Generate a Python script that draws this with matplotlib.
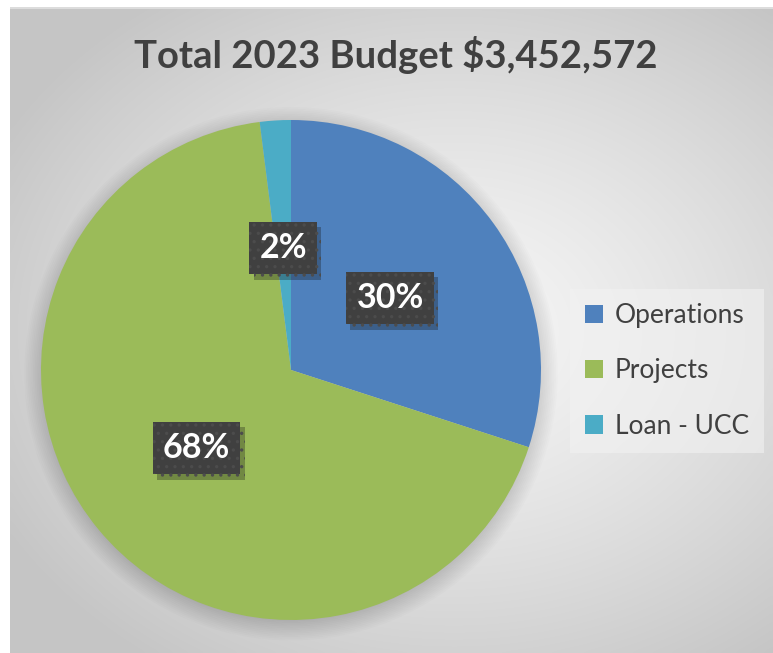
import numpy as np
import matplotlib
matplotlib.use("Agg")
import matplotlib.pyplot as plt
import matplotlib.patheffects as pe
from matplotlib.patches import Circle, Patch

# Budget split
categories = ["Operations", "Projects", "Loan - UCC"]
shares = [30, 68, 2]
colors = ["#4F81BD", "#9BBB59", "#4BACC6"]
title = "Total 2023 Budget $3,452,572"

W, H = 773, 653
fig = plt.figure(figsize=(W / 100, H / 100), dpi=100, facecolor="white")
plt.rcParams["font.family"] = ["Lato", "DejaVu Sans"]
plt.rcParams["hatch.linewidth"] = 1.2

# radial gradient backdrop for the chart area
bg = fig.add_axes([10 / W, 0, 1 - 10 / W, 1 - 7 / H])
bg.set_axis_off()
yy, xx = np.mgrid[0:200, 0:200]
cx, cy = 0.58 * 200, 0.50 * 200
d = np.sqrt(((xx - cx) / 135) ** 2 + ((yy - cy) / 125) ** 2)
d = np.clip(d, 0, 1)
shade = 0.965 - 0.19 * d ** 1.3
bg.imshow(np.dstack([shade] * 3), extent=(0, 1, 0, 1), aspect="auto",
          interpolation="bicubic")
bg.plot([0, 1], [0.999, 0.999], color="#dcdcdc", lw=1.5)
bg.set_xlim(0, 1)
bg.set_ylim(0, 1)

fig.text(396 / W, 1 - 55 / H, title, ha="center", va="center",
         fontsize=27.5, fontweight="bold", color="#404040")

ax = fig.add_axes([41 / W, 33 / H, 500 / W, 500 / H])
ax.set_aspect("equal")
ax.set_axis_off()

# soft drop shadow under the pie
for i in range(12):
    ax.add_patch(Circle((0, -0.015), 0.99 + 0.007 * i, color="black",
                        alpha=0.012, lw=0, zorder=0, clip_on=False))

wedges, texts, autotexts = ax.pie(
    shares, colors=colors, startangle=90, counterclock=False,
    autopct="%d%%", pctdistance=0.49,
    wedgeprops=dict(linewidth=0),
    textprops=dict(color="white", fontsize=24.5, fontweight="bold"))

for t in autotexts:
    t.set_bbox(dict(boxstyle="square,pad=0.3", fc="#404040", ec="#4c4c4c",
                    lw=0, hatch=".."))
    t.get_bbox_patch().set_path_effects(
        [pe.SimplePatchShadow(offset=(3, -4), alpha=0.3), pe.Normal()])
    t.set_zorder(5)

ax.set_xlim(-1, 1)
ax.set_ylim(-1, 1)

handles = [Patch(facecolor=c, edgecolor="none") for c in colors]
leg = fig.legend(handles, categories, loc="center left",
                 bbox_to_anchor=(570 / W, 1 - 371 / H),
                 frameon=True, fancybox=False, fontsize=19,
                 handlelength=0.7, handleheight=0.7, handletextpad=0.45,
                 labelspacing=1.15, borderpad=0.55, borderaxespad=0,
                 labelcolor="#404040")
leg.get_frame().set_facecolor("#f2f2f2")
leg.get_frame().set_edgecolor("none")
leg.get_frame().set_alpha(0.6)

fig.savefig("out.png", dpi=100, facecolor="white")
